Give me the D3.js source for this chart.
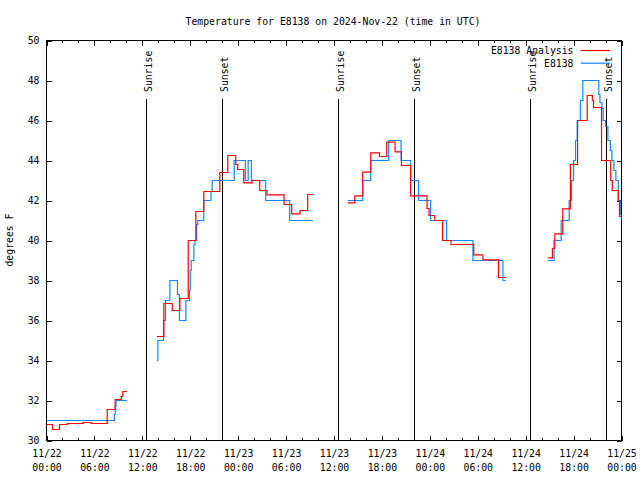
<!DOCTYPE html>
<html><head><meta charset="utf-8">
<script src="https://cdn.jsdelivr.net/npm/d3@7"></script>
<style>
body{margin:0;background:#fff}
text{font-family:"DejaVu Sans Mono",monospace;font-size:9.8px;fill:#000}
</style>
</head><body>
<svg id="chart" width="640" height="480"></svg>
<script>
// ---------------- data ----------------
const startUTC = Date.UTC(2024, 10, 22); // 2024-11-22 00:00 UTC
const titleText = "Temperature for E8138 on 2024-Nov-22 (time in UTC)";
const yLabelText = "degrees F";
const seriesNames = ["E8138 Analysis", "E8138"];
const yTicks = [30, 32, 34, 36, 38, 40, 42, 44, 46, 48, 50];

// hours since start; null marks a data gap (step-after values)
const analysisHours = [
  0, 0.75, 1.63, 2.6, 4.6, 5.6, 7.6, 8.6, 9.35, 9.55, 10.1, null,
  13.82, 14.7, 15.75, 16.7, 17.75, 18.7, 19.7, 21.7, 22.7, 23.7, 23.95, 24.7, 25.75, 26.7, 27.6, 29.75, 30.7, 31.75, 32.7, 33.39, null,
  37.73, 38.6, 39.6, 40.6, 41.7, 42.6, 43.65, 44.45, 45.6, 47.65, 47.9, 48.6, 49.6, 50.65, 53.5, 54.65, 56.6, 57.52, null,
  62.78, 63.35, 63.65, 64.65, 65.6, 66.5, 67.7, 68.35, 68.5, 69.5, 70.65, 70.85, 71.6, 71.75, 71.9
];
const analysisTemps = [
  30.8, 30.55, 30.8, 30.85, 30.9, 30.85, 31.55, 32.05, 32.2, 32.45, 32.45, null,
  35.2, 36.85, 36.5, 37.1, 40.0, 41.45, 42.45, 43.4, 44.25, 43.8, 43.55, 42.88, 43.0, 42.5, 42.28, 41.8, 41.33, 41.5, 42.3, 42.3, null,
  41.88, 42.23, 43.42, 44.38, 44.2, 44.92, 44.43, 43.75, 42.23, 41.6, 41.25, 41.0, 40.0, 39.8, 39.28, 39.03, 38.15, 38.15, null,
  39.13, 39.6, 40.33, 41.58, 43.8, 46.0, 47.25, 47.0, 46.65, 44.0, 43.0, 42.5, 42.0, 41.2, 41.2
];
const obsHours = [
  0, 8.5, 8.6, 8.7, 10.1, null,
  13.82, 13.95, 14.65, 14.9, 15.45, 16.4, 16.65, 17.45, 17.9, 18.0, 18.12, 18.45, 18.6, 18.8, 18.95, 19.7, 20.6, 20.75, 23.5, 24.9, 25.25, 25.65, 27.45, 30.45, 33.39, null,
  37.73, 39.6, 40.6, 42.85, 44.4, 45.6, 46.6, 48.1, 50.1, 53.4, 57.15, 57.52, null,
  62.78, 63.55, 64.45, 65.45, 65.75, 66.0, 66.25, 66.45, 66.85, 67.15, 69.15, 69.3, 69.55, 69.7, 70.0, 70.3, 70.6, 70.8, 71.05, 71.3, 71.6, 71.85, 72.0
];
const obsTemps = [
  31.0, 31.3, 31.7, 32.0, 32.0, null,
  34, 35, 36, 37, 38, 37.3, 36, 37, 37.5, 38.5, 39, 39.8, 40, 40.8, 41, 42, 42.45, 43, 44, 43, 44, 43, 42, 41, 41, null,
  42, 43, 44, 45, 44, 43, 42, 41, 40, 39, 38, 38, null,
  39, 40, 41, 42, 43, 44, 45, 46, 47, 48, 47.3, 46.9, 46.6, 46.0, 45.7, 45.0, 44.5, 44.0, 43.5, 43.0, 42.0, 41.3, 41.0
];
const sunHours = [12.52, 22.08, 36.6, 46.1, 60.64, 70.06];
const sunLabels = ["Sunrise", "Sunset", "Sunrise", "Sunset", "Sunrise", "Sunset"];

// ---------------- drawing ----------------
const colors = ["#ff0000", "#0a88ff"];
const svg = d3.select("#chart");
const L = 46.5, R = 621.5, T = 40.5, B = 440.5;
const toDate = h => new Date(startUTC + h * 3600e3);

const x = d3.scaleUtc().domain([toDate(0), toDate(72)]).range([L, R]);
const y = d3.scaleLinear().domain([30, 50]).range([B, T]);

svg.append("rect").attr("width", 640).attr("height", 480).attr("fill", "#fff");

svg.append("defs").append("clipPath").attr("id", "clip")
  .append("rect").attr("x", L).attr("y", T - 1).attr("width", R - L).attr("height", B - T + 2);

const major = d3.utcHour.every(6).range(toDate(0), toDate(72.01));
const minor = d3.utcHour.every(2).range(toDate(0), toDate(72.01));

function styleAxis(g) {
  g.attr("font-family", null).attr("font-size", null);
  g.select(".domain").remove();
  g.selectAll("line").attr("stroke", "#000").attr("shape-rendering", "crispEdges");
}

// bottom axis: minor + major ticks
svg.append("g").attr("transform", `translate(0,${B})`)
  .call(d3.axisBottom(x).tickValues(minor).tickSizeInner(-2.5).tickSizeOuter(0).tickFormat(""))
  .call(styleAxis);
const bottom = svg.append("g").attr("transform", `translate(0,${B})`)
  .call(d3.axisBottom(x).tickValues(major).tickSizeInner(-5).tickSizeOuter(0).tickFormat(""))
  .call(styleAxis);
const fmtDay = d3.utcFormat("%m/%d"), fmtTime = d3.utcFormat("%H:%M");
bottom.selectAll(".tick").each(function(d) {
  const t = d3.select(this).append("text").attr("text-anchor", "middle").attr("fill", "#000");
  t.append("tspan").attr("x", 0).attr("y", 16.8).text(fmtDay(d));
  t.append("tspan").attr("x", 0).attr("y", 30.2).text(fmtTime(d));
});

// top mirror ticks
svg.append("g").attr("transform", `translate(0,${T})`)
  .call(d3.axisTop(x).tickValues(minor).tickSizeInner(-2.5).tickSizeOuter(0).tickFormat(""))
  .call(styleAxis);
svg.append("g").attr("transform", `translate(0,${T})`)
  .call(d3.axisTop(x).tickValues(major).tickSizeInner(-5).tickSizeOuter(0).tickFormat(""))
  .call(styleAxis);

// left axis
const left = svg.append("g").attr("transform", `translate(${L},0)`)
  .call(d3.axisLeft(y).tickValues(yTicks).tickSizeInner(-5).tickSizeOuter(0).tickPadding(7).tickFormat(d3.format("d")))
  .call(styleAxis);
left.selectAll("text").attr("fill", "#000");

// right mirror ticks
svg.append("g").attr("transform", `translate(${R},0)`)
  .call(d3.axisRight(y).tickValues(yTicks).tickSizeInner(-5).tickSizeOuter(0).tickFormat(""))
  .call(styleAxis);

// border
svg.append("rect").attr("x", L).attr("y", T).attr("width", R - L).attr("height", B - T)
  .attr("fill", "none").attr("stroke", "#000").attr("shape-rendering", "crispEdges");

// sunrise / sunset lines
const sun = svg.append("g");
sunHours.forEach((h, i) => {
  const sx = Math.round(x(toDate(h)) - 0.5) + 0.5;
  sun.append("line").attr("x1", sx).attr("x2", sx).attr("y1", 99).attr("y2", B)
    .attr("stroke", "#000").attr("shape-rendering", "crispEdges");
  sun.append("text").attr("transform", `translate(${sx + 5},92) rotate(-90)`)
    .attr("text-anchor", "start").text(sunLabels[i]);
});

// series
const toPts = (hs, vs) => hs.map((h, i) => ({h, v: vs[i]}));
const line = d3.line()
  .defined(d => d.h !== null && d.v !== null)
  .x(d => x(toDate(d.h))).y(d => y(d.v))
  .curve(d3.curveStepAfter);
const plot = svg.append("g").attr("clip-path", "url(#clip)");
plot.append("path").datum(toPts(obsHours, obsTemps))
  .attr("d", line).attr("fill", "none").attr("stroke", colors[1]).attr("stroke-width", 1.2);
plot.append("path").datum(toPts(analysisHours, analysisTemps))
  .attr("d", line).attr("fill", "none").attr("stroke", colors[0]).attr("stroke-width", 1.2);

// legend
const legend = svg.append("g");
seriesNames.forEach((n, i) => {
  const ly = 50.5 + i * 12.7;
  legend.append("text").attr("x", 573.5).attr("y", ly + 3.5).attr("text-anchor", "end").text(n);
  legend.append("line").attr("x1", 581).attr("x2", 610).attr("y1", ly).attr("y2", ly)
    .attr("stroke", colors[i]).attr("stroke-width", 1.2);
});

// title and y label
svg.append("text").attr("x", 333).attr("y", 25).attr("text-anchor", "middle").text(titleText);
svg.append("text").attr("transform", "translate(12.8,240) rotate(-90)")
  .attr("text-anchor", "middle").text(yLabelText);
</script>
</body></html>
